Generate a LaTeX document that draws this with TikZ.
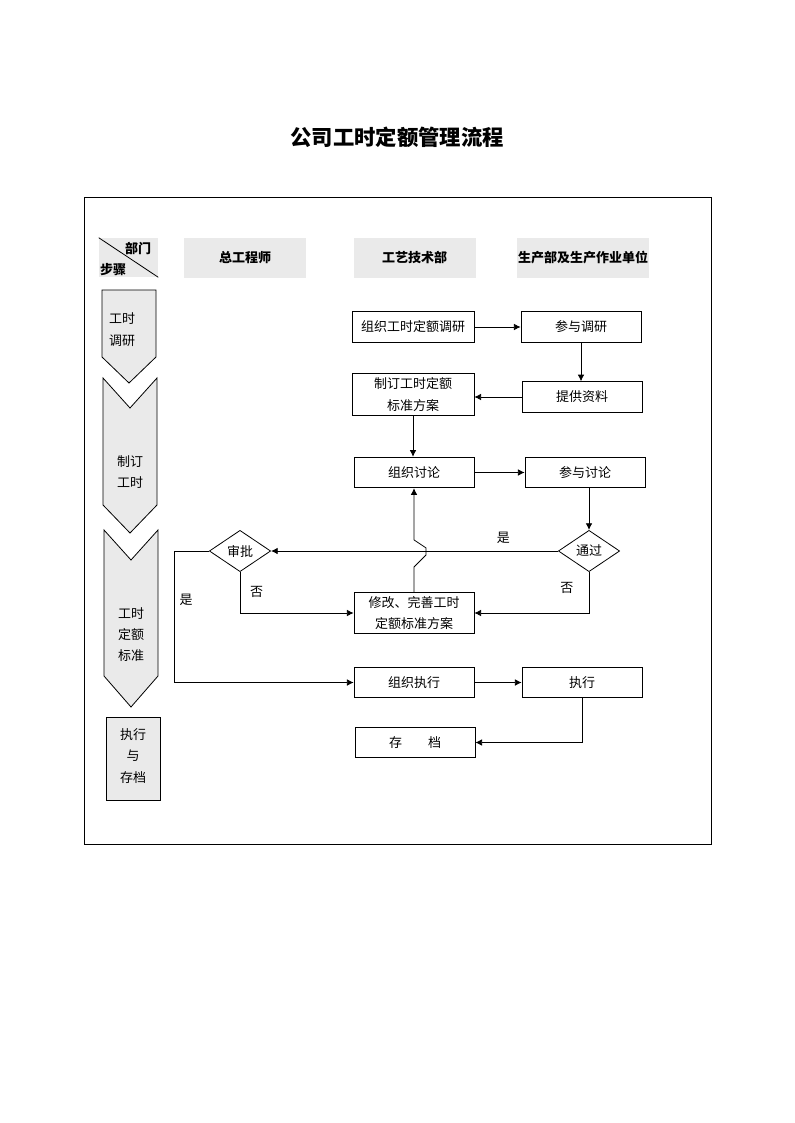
\documentclass[tikz,border=0pt]{standalone}
\usepackage{fontspec}
\setmainfont{Noto Sans CJK SC}
\usetikzlibrary{shapes.geometric,arrows.meta}
\definecolor{cellgray}{HTML}{EAEAEA}
\newcommand\boxfont{\fontsize{9.75pt}{16pt}\selectfont}
\tikzset{
  flowbox/.style={draw,line width=0.6pt,minimum width=90pt,minimum height=23pt,inner sep=1pt,align=center},
  tallbox/.style={flowbox,minimum height=31pt},
  check/.style={draw,diamond,line width=0.6pt,aspect=1.5,minimum width=46pt,minimum height=31pt,inner sep=0pt},
  head/.style={fill=cellgray,minimum width=91.5pt,minimum height=30pt,inner sep=1pt,font=\bfseries\boxfont},
  stage/.style={draw,fill=cellgray,line width=0.6pt},
  flow/.style={line width=0.6pt,-{Latex[length=5pt,width=5pt]}}
}
\begin{document}
\begin{tikzpicture}[x=0.75pt,y=-0.75pt,font=\boxfont]
\useasboundingbox (0,0) rectangle (794,1123);
\node[font=\bfseries\fontsize{16pt}{18pt}\selectfont] (title) at (397,137) {公司工时定额管理流程};
\draw[line width=0.6pt] (84,197) rectangle (711,844);

% header row
\node[fill=cellgray,minimum width=44.25pt,minimum height=29.25pt,inner sep=0pt] (corner) at (128.5,257.5) {};
\draw[line width=0.6pt] (corner.north west) -- (corner.south east);
\node[font=\bfseries\boxfont] (dept) at (138,249) {部门};
\node[font=\bfseries\boxfont] (steps) at (113,270) {步骤};
\node[head] (chief) at (245,258) {总工程师};
\node[head] (tech) at (414.5,258) {工艺技术部};
\node[head,minimum width=99pt] (prod) at (583,258) {生产部及生产作业单位};

% stages
\draw[stage] (102,290) -- (156,290) -- (156,357) -- (129,383) -- (102,357) -- cycle;
\draw[stage] (103,378) -- (130,408) -- (157,378) -- (157,505) -- (130,533) -- (103,505) -- cycle;
\draw[stage] (104,530) -- (131,560) -- (158,530) -- (158,676) -- (131,707) -- (104,676) -- cycle;
\draw[stage] (106,717) rectangle (160,800);
\node[align=center] (stage1) at (122,329.5) {工时\\调研};
\node[align=center] (stage2) at (130,472) {制订\\工时};
\node[align=center] (stage3) at (131,634.5) {工时\\定额\\标准};
\node[align=center] (stage4) at (133,756) {执行\\与\\存档};

% flow
\node[flowbox,minimum width=91.5pt] (survey) at (413,327) {组织工时定额调研};
\node[flowbox] (join) at (581,327) {参与调研};
\node[flowbox] (supply) at (582,397) {提供资料};
\node[tallbox,minimum width=91.5pt] (draft) at (413,394.5) {制订工时定额\\标准方案};
\node[flowbox] (discuss) at (414,472.5) {组织讨论};
\node[flowbox] (joindisc) at (585,472.5) {参与讨论};
\node[check] (pass) at (589,551) {通过};
\node[check] (approve) at (240,551) {审批};
\node[tallbox] (revise) at (414,613) {修改、完善工时\\定额标准方案};
\node[flowbox] (execorg) at (414,682.5) {组织执行};
\node[flowbox] (exec) at (582,682.5) {执行};
\node[flowbox] (archive) at (415,742.5) {存　　档};

\draw[flow] (survey) -- (join);
\draw[flow] (join.south) -- (join.south |- supply.north);
\draw[flow] (supply) -- (supply -| draft.east);
\draw[flow] (draft.south) -- (draft.south |- discuss.north);
\draw[flow] (discuss) -- (joindisc);
\draw[flow] (pass |- joindisc.south) -- (pass.north);
\draw[flow] (pass) -- (approve) node[pos=0.19,above=2pt] (yes1) {是};
\draw[flow] (pass.south) |- (revise.east) node[pos=0.19,left=8pt] (no1) {否};
\draw[flow] (approve.south) |- (revise.west) node[pos=0.24,right=4pt] (no2) {否};
\draw[flow] (approve.west) -- ++(-35,0) |- (execorg.west);
\node (yes2) at (186,600) {是};
\draw[flow] (revise.north) -- ++(0,-25) -- ++(12,-12) -- ++(0,-7) -- ++(-12,-8) -- (discuss.south);
\draw[flow] (execorg) -- (exec);
\draw[flow] (exec.south) |- (archive.east);
\end{tikzpicture}
\end{document}
